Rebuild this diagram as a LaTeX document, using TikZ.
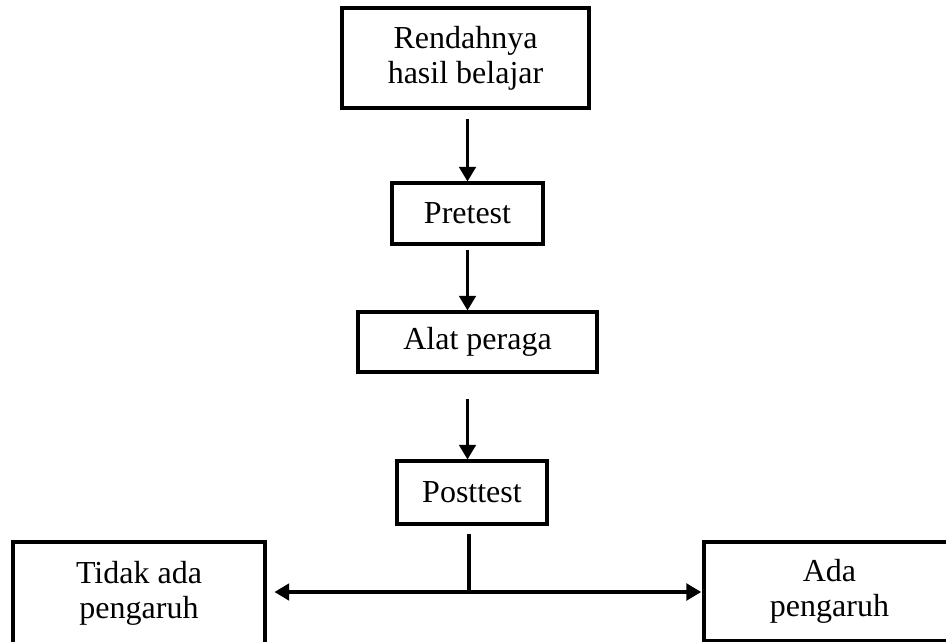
\documentclass[tikz,border=0pt]{standalone}
\usepackage{fontspec}
\setmainfont{Liberation Serif}
\usetikzlibrary{arrows.meta}
\begin{document}
\begin{tikzpicture}[x=0.75pt,y=-0.75pt,
  box/.style={draw,line width=2.3pt,inner sep=0pt,align=center,
    font=\fontsize{24}{26.25}\selectfont},
  arr/.style={line width=2.3pt,-{Triangle[width=12.5pt,length=11pt]}},
  ln/.style={line width=2.3pt}]
\useasboundingbox (0,0) rectangle (946,642);
\node[box,minimum width=185.25pt,minimum height=75pt] (b1) at (465.5,58) {Rendahnya\\hasil belajar};
\node[box,minimum width=113.25pt,minimum height=45.75pt] (b2) at (467.5,213.5) {Pretest};
\node[box,minimum width=179.25pt,minimum height=45pt] (b3) at (477.5,342) {Alat peraga};
\node[box,minimum width=112.5pt,minimum height=47.25pt] (b4) at (472,492.5) {Posttest};
\node[box,minimum width=189pt,minimum height=77.25pt] (l) at (139,593.5) {Tidak ada\\pengaruh};
\node[box,minimum width=188.25pt,minimum height=74.25pt] (r) at (829.5,591.5) {Ada\\pengaruh};
\coordinate (j) at (469,592);
\draw[arr,shorten <=6.75pt] (b1.south -| b2.north) -- (b2.north);
\draw[arr,shorten <=3pt] (b2.south) -- (b2.south |- b3.north);
\draw[arr,shorten <=18.75pt] (b2.south |- b3.south) -- (b2.south |- b4.north);
\draw[ln,shorten <=6pt] (j |- b4.south) -- (j);
\draw[arr,shorten >=6pt] (j) -- (l.east |- j);
\draw[arr,shorten >=1pt] (j) -- (r.west |- j);
\end{tikzpicture}
\end{document}
